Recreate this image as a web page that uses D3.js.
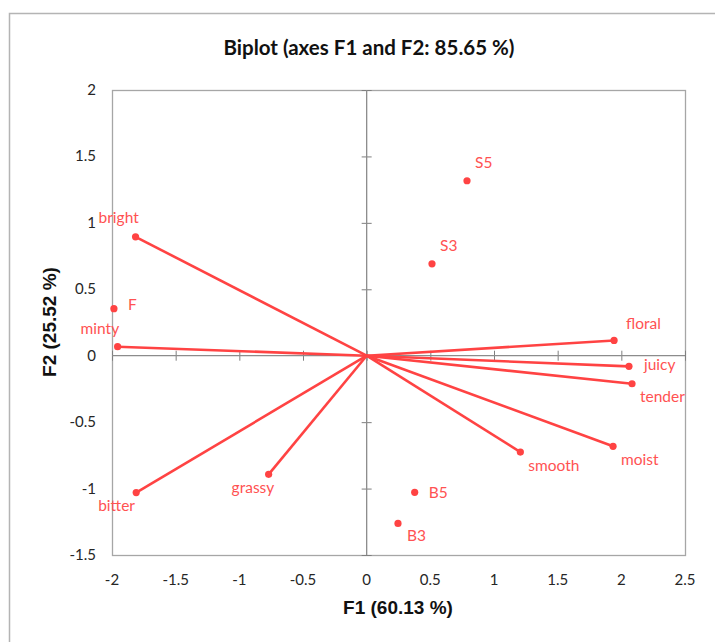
<!DOCTYPE html>
<html>
<head>
<meta charset="utf-8">
<script src="https://cdn.jsdelivr.net/npm/d3@7"></script>
<style>
  body { margin: 0; background: #fff; }
  svg { display: block; }
</style>
</head>
<body>
<svg id="chart" width="715" height="642"></svg>
<script>
// variables (drawn as vectors from the origin)
const varNames = ["bright", "minty", "bitter", "grassy", "smooth", "moist", "tender", "juicy", "floral"];
const varF1 = [-1.815, -1.956, -1.81, -0.77, 1.207, 1.935, 2.084, 2.06, 1.943];
const varF2 = [0.895, 0.068, -1.03, -0.893, -0.725, -0.682, -0.211, -0.08, 0.115];

// observations (points only)
const obsNames = ["F", "S5", "S3", "B5", "B3"];
const obsF1 = [-1.985, 0.788, 0.513, 0.377, 0.246];
const obsF2 = [0.354, 1.317, 0.692, -1.028, -1.262];

const xTicks = [-2, -1.5, -1, -0.5, 0, 0.5, 1, 1.5, 2, 2.5];
const yTicks = [-1.5, -1, -0.5, 0, 0.5, 1, 1.5, 2];

// label placement in px relative to the point
const labelOffset = {
  bright: [-37, -14], minty: [-37, -13], bitter: [-38, 18], grassy: [-37, 19],
  smooth: [8, 19], moist: [8, 19], tender: [8, 18], juicy: [15, 4], floral: [12, -11],
  F: [14, 1], S5: [8, -13], S3: [8, -13], B5: [14, 6], B3: [9, 18]
};

const red = "#ff4343";
const labelRed = "#ff5252";
const tickFont = "Lato, 'Open Sans', sans-serif";

const svg = d3.select("#chart");
const plot = { left: 112, right: 685, top: 90, bottom: 555 };

const x = d3.scaleLinear().domain([-2, 2.5]).range([plot.left, plot.right]);
const y = d3.scaleLinear().domain([-1.5, 2]).range([plot.bottom, plot.top]);

// outer frame
svg.append("rect")
  .attr("x", 9.5).attr("y", 13.5)
  .attr("width", 720).attr("height", 640)
  .attr("fill", "none").attr("stroke", "#b4b4b4").attr("stroke-width", 1.5);

// title
svg.append("text")
  .attr("x", 369).attr("y", 55)
  .attr("text-anchor", "middle")
  .style("font-family", tickFont)
  .style("font-weight", "bold")
  .style("font-size", "20.5px")
  .style("fill", "#111")
  .text("Biplot (axes F1 and F2: 85.65 %)");

// plot frame
svg.append("rect")
  .attr("x", plot.left + 0.5).attr("y", plot.top + 0.5)
  .attr("width", plot.right - plot.left).attr("height", plot.bottom - plot.top)
  .attr("fill", "none").attr("stroke", "#a6a6a6").attr("stroke-width", 1.3);

// zero axes with cross ticks
const xAxis = d3.axisBottom(x).tickValues(xTicks).tickSize(10).tickFormat("");
const xg = svg.append("g").attr("transform", `translate(0,${y(0) - 5})`).call(xAxis);
xg.select(".domain").remove();
xg.selectAll("line").attr("stroke", "#7f7f7f");

const yAxis = d3.axisLeft(y).tickValues(yTicks).tickSize(10).tickFormat("");
const yg = svg.append("g").attr("transform", `translate(${x(0) + 5},0)`).call(yAxis);
yg.select(".domain").remove();
yg.selectAll("line").attr("stroke", "#7f7f7f");

svg.append("line")
  .attr("x1", plot.left).attr("x2", plot.right)
  .attr("y1", y(0)).attr("y2", y(0))
  .attr("stroke", "#8c8c8c").attr("stroke-width", 1.3);
svg.append("line")
  .attr("x1", x(0)).attr("x2", x(0))
  .attr("y1", plot.top).attr("y2", plot.bottom)
  .attr("stroke", "#8c8c8c").attr("stroke-width", 1.3);

// tick labels
svg.append("g").selectAll("text")
  .data(xTicks).enter().append("text")
  .attr("x", d => x(d)).attr("y", 585)
  .attr("text-anchor", "middle")
  .style("font-family", tickFont).style("font-size", "15px").style("fill", "#262626")
  .text(d => d);

svg.append("g").selectAll("text")
  .data(yTicks).enter().append("text")
  .attr("x", 96).attr("y", d => y(d) + 5)
  .attr("text-anchor", "end")
  .style("font-family", tickFont).style("font-size", "15px").style("fill", "#262626")
  .text(d => d);

// axis titles
svg.append("text")
  .attr("x", 398).attr("y", 614)
  .attr("text-anchor", "middle")
  .style("font-family", "'Liberation Sans', Arial, sans-serif")
  .style("font-weight", "bold").style("font-size", "19px").style("fill", "#111")
  .text("F1 (60.13 %)");

svg.append("text")
  .attr("transform", `translate(56,322) rotate(-90)`)
  .attr("text-anchor", "middle")
  .style("font-family", "'Liberation Sans', Arial, sans-serif")
  .style("font-weight", "bold").style("font-size", "19px").style("fill", "#111")
  .text("F2 (25.52 %)");

// vectors
const vars = varNames.map((n, i) => ({ name: n, f1: varF1[i], f2: varF2[i] }));
const obs = obsNames.map((n, i) => ({ name: n, f1: obsF1[i], f2: obsF2[i] }));

svg.append("g").selectAll("line")
  .data(vars).enter().append("line")
  .attr("x1", x(0)).attr("y1", y(0))
  .attr("x2", d => x(d.f1)).attr("y2", d => y(d.f2))
  .attr("stroke", red).attr("stroke-width", 2.6);

const all = vars.concat(obs);

svg.append("g").selectAll("circle")
  .data(all).enter().append("circle")
  .attr("cx", d => x(d.f1)).attr("cy", d => y(d.f2))
  .attr("r", 3.6)
  .attr("fill", red);

svg.append("g").selectAll("text")
  .data(all).enter().append("text")
  .attr("x", d => x(d.f1) + labelOffset[d.name][0])
  .attr("y", d => y(d.f2) + labelOffset[d.name][1])
  .style("font-family", tickFont).style("font-size", "15.5px").style("fill", labelRed)
  .text(d => d.name);
</script>
</body>
</html>
